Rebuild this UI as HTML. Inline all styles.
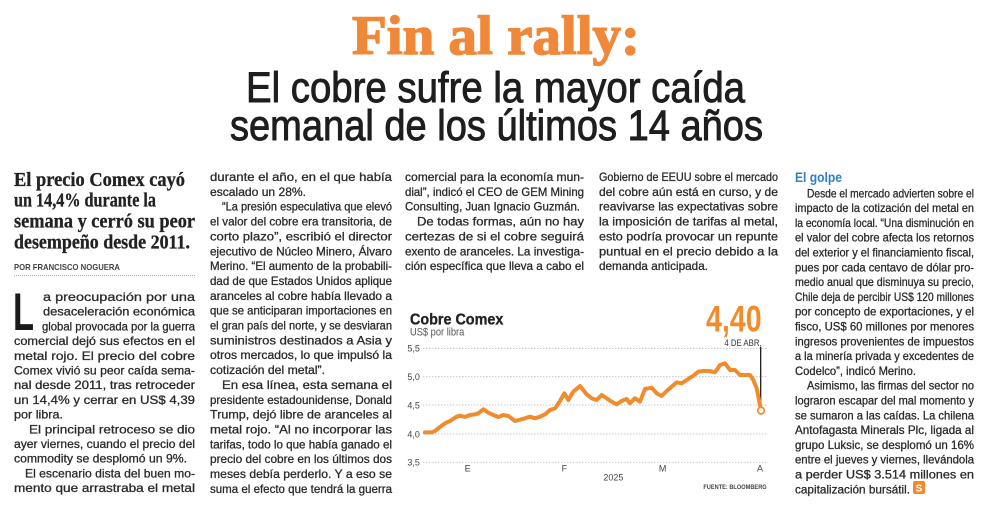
<!DOCTYPE html>
<html><head><meta charset="utf-8">
<style>
html,body{margin:0;padding:0;background:#fff;}
svg{display:block;}
.b{font-family:"Liberation Sans",sans-serif;font-size:12px;fill:#2b2b2b;stroke:#2b2b2b;stroke-width:0.3px;}
</style></head>
<body>
<svg width="1000" height="518" viewBox="0 0 1000 518" xmlns="http://www.w3.org/2000/svg">
<rect width="1000" height="518" fill="#fff"/>
<!-- Title -->
<text x="352" y="54" font-family="'Liberation Serif',serif" font-weight="bold" font-size="55" fill="#f0883a" stroke="#f0883a" stroke-width="1.4" textLength="288" lengthAdjust="spacingAndGlyphs">Fin al rally:</text>
<text x="246" y="102" font-family="'Liberation Sans',sans-serif" font-size="43" fill="#1e1e1e" stroke="#1e1e1e" stroke-width="0.9" textLength="499" lengthAdjust="spacingAndGlyphs">El cobre sufre la mayor caída</text>
<text x="230" y="140" font-family="'Liberation Sans',sans-serif" font-size="43" fill="#1e1e1e" stroke="#1e1e1e" stroke-width="0.9" textLength="533" lengthAdjust="spacingAndGlyphs">semanal de los últimos 14 años</text>

<!-- Column 1 deck -->
<g font-family="'Liberation Serif',serif" font-weight="bold" font-size="19.5" fill="#222" stroke="#222" stroke-width="0.3">
<text x="14" y="186" textLength="171" lengthAdjust="spacingAndGlyphs">El precio Comex cayó</text>
<text x="14" y="206.7" textLength="142" lengthAdjust="spacingAndGlyphs">un 14,4% durante la</text>
<text x="14" y="227.5" textLength="181" lengthAdjust="spacingAndGlyphs">semana y cerró su peor</text>
<text x="14" y="248.3" textLength="176" lengthAdjust="spacingAndGlyphs">desempeño desde 2011.</text>
</g>
<text x="14" y="270" font-family="'Liberation Sans',sans-serif" font-weight="bold" font-size="8.5" fill="#444" textLength="106" lengthAdjust="spacingAndGlyphs">POR FRANCISCO NOGUERA</text>
<line x1="14" y1="275.5" x2="195" y2="275.5" stroke="#aaa" stroke-width="1" stroke-dasharray="1,1"/>
<text x="13" y="330" font-family="'Liberation Sans',sans-serif" font-weight="bold" font-size="53" fill="#1a1a1a" textLength="21" lengthAdjust="spacingAndGlyphs">L</text>

<g class="b">
<!-- Column 1 body -->
<text x="43" y="301" textLength="152" lengthAdjust="spacingAndGlyphs">a preocupación por una</text>
<text x="43" y="315.7" textLength="152" lengthAdjust="spacingAndGlyphs">desaceleración económica</text>
<text x="42" y="330.4" textLength="153" lengthAdjust="spacingAndGlyphs">global provocada por la guerra</text>
<text x="14" y="345.1" textLength="181" lengthAdjust="spacingAndGlyphs">comercial dejó sus efectos en el</text>
<text x="14" y="359.8" textLength="181" lengthAdjust="spacingAndGlyphs">metal rojo. El precio del cobre</text>
<text x="14" y="374.5" textLength="181" lengthAdjust="spacingAndGlyphs">Comex vivió su peor caída sema-</text>
<text x="14" y="389.2" textLength="181" lengthAdjust="spacingAndGlyphs">nal desde 2011, tras retroceder</text>
<text x="14" y="403.9" textLength="181" lengthAdjust="spacingAndGlyphs">un 14,4% y cerrar en US$ 4,39</text>
<text x="14" y="418.6" textLength="49" lengthAdjust="spacingAndGlyphs">por libra.</text>
<text x="29" y="433.3" textLength="166" lengthAdjust="spacingAndGlyphs">El principal retroceso se dio</text>
<text x="14" y="448" textLength="181" lengthAdjust="spacingAndGlyphs">ayer viernes, cuando el precio del</text>
<text x="14" y="462.7" textLength="173" lengthAdjust="spacingAndGlyphs">commodity se desplomó un 9%.</text>
<text x="25" y="477.4" textLength="170" lengthAdjust="spacingAndGlyphs">El escenario dista del buen mo-</text>
<text x="14" y="492.1" textLength="181" lengthAdjust="spacingAndGlyphs">mento que arrastraba el metal</text>

<!-- Column 2 -->
<text x="210" y="181" textLength="182" lengthAdjust="spacingAndGlyphs">durante el año, en el que había</text>
<text x="210" y="195.85" textLength="96" lengthAdjust="spacingAndGlyphs">escalado un 28%.</text>
<text x="222" y="210.7" textLength="170" lengthAdjust="spacingAndGlyphs">“La presión especulativa que elevó</text>
<text x="210" y="225.55" textLength="182" lengthAdjust="spacingAndGlyphs">el valor del cobre era transitoria, de</text>
<text x="210" y="240.4" textLength="182" lengthAdjust="spacingAndGlyphs">corto plazo”, escribió el director</text>
<text x="210" y="255.25" textLength="182" lengthAdjust="spacingAndGlyphs">ejecutivo de Núcleo Minero, Álvaro</text>
<text x="210" y="270.1" textLength="182" lengthAdjust="spacingAndGlyphs">Merino. “El aumento de la probabili-</text>
<text x="210" y="284.95" textLength="182" lengthAdjust="spacingAndGlyphs">dad de que Estados Unidos aplique</text>
<text x="210" y="299.8" textLength="182" lengthAdjust="spacingAndGlyphs">aranceles al cobre había llevado a</text>
<text x="210" y="314.65" textLength="182" lengthAdjust="spacingAndGlyphs">que se anticiparan importaciones en</text>
<text x="210" y="329.5" textLength="182" lengthAdjust="spacingAndGlyphs">el gran país del norte, y se desviaran</text>
<text x="210" y="344.35" textLength="182" lengthAdjust="spacingAndGlyphs">suministros destinados a Asia y</text>
<text x="210" y="359.2" textLength="182" lengthAdjust="spacingAndGlyphs">otros mercados, lo que impulsó la</text>
<text x="210" y="374.05" textLength="115" lengthAdjust="spacingAndGlyphs">cotización del metal”.</text>
<text x="222" y="388.9" textLength="170" lengthAdjust="spacingAndGlyphs">En esa línea, esta semana el</text>
<text x="210" y="403.75" textLength="182" lengthAdjust="spacingAndGlyphs">presidente estadounidense, Donald</text>
<text x="210" y="418.6" textLength="182" lengthAdjust="spacingAndGlyphs">Trump, dejó libre de aranceles al</text>
<text x="210" y="433.45" textLength="182" lengthAdjust="spacingAndGlyphs">metal rojo. “Al no incorporar las</text>
<text x="210" y="448.3" textLength="182" lengthAdjust="spacingAndGlyphs">tarifas, todo lo que había ganado el</text>
<text x="210" y="463.15" textLength="182" lengthAdjust="spacingAndGlyphs">precio del cobre en los últimos dos</text>
<text x="210" y="478" textLength="182" lengthAdjust="spacingAndGlyphs">meses debía perderlo. Y a eso se</text>
<text x="210" y="492.85" textLength="182" lengthAdjust="spacingAndGlyphs">suma el efecto que tendrá la guerra</text>

<!-- Column 3 -->
<text x="405" y="181" textLength="179" lengthAdjust="spacingAndGlyphs">comercial para la economía mun-</text>
<text x="405" y="195.85" textLength="179" lengthAdjust="spacingAndGlyphs">dial”, indicó el CEO de GEM Mining</text>
<text x="405" y="210.7" textLength="175" lengthAdjust="spacingAndGlyphs">Consulting, Juan Ignacio Guzmán.</text>
<text x="417" y="225.55" textLength="167" lengthAdjust="spacingAndGlyphs">De todas formas, aún no hay</text>
<text x="405" y="240.4" textLength="179" lengthAdjust="spacingAndGlyphs">certezas de si el cobre seguirá</text>
<text x="405" y="255.25" textLength="179" lengthAdjust="spacingAndGlyphs">exento de aranceles. La investiga-</text>
<text x="405" y="270.1" textLength="179" lengthAdjust="spacingAndGlyphs">ción específica que lleva a cabo el</text>

<!-- Column 4 -->
<text x="599" y="181" textLength="179" lengthAdjust="spacingAndGlyphs">Gobierno de EEUU sobre el mercado</text>
<text x="599" y="195.85" textLength="179" lengthAdjust="spacingAndGlyphs">del cobre aún está en curso, y de</text>
<text x="599" y="210.7" textLength="179" lengthAdjust="spacingAndGlyphs">reavivarse las expectativas sobre</text>
<text x="599" y="225.55" textLength="179" lengthAdjust="spacingAndGlyphs">la imposición de tarifas al metal,</text>
<text x="599" y="240.4" textLength="179" lengthAdjust="spacingAndGlyphs">esto podría provocar un repunte</text>
<text x="599" y="255.25" textLength="179" lengthAdjust="spacingAndGlyphs">puntual en el precio debido a la</text>
<text x="599" y="270.1" textLength="109" lengthAdjust="spacingAndGlyphs">demanda anticipada.</text>

<!-- Column 5 -->
<text x="807" y="197.3" textLength="167" lengthAdjust="spacingAndGlyphs">Desde el mercado advierten sobre el</text>
<text x="795" y="212.1" textLength="179" lengthAdjust="spacingAndGlyphs">impacto de la cotización del metal en</text>
<text x="795" y="226.9" textLength="179" lengthAdjust="spacingAndGlyphs">la economía local. “Una disminución en</text>
<text x="795" y="241.7" textLength="179" lengthAdjust="spacingAndGlyphs">el valor del cobre afecta los retornos</text>
<text x="795" y="256.5" textLength="179" lengthAdjust="spacingAndGlyphs">del exterior y el financiamiento fiscal,</text>
<text x="795" y="271.3" textLength="179" lengthAdjust="spacingAndGlyphs">pues por cada centavo de dólar pro-</text>
<text x="795" y="286.1" textLength="179" lengthAdjust="spacingAndGlyphs">medio anual que disminuya su precio,</text>
<text x="795" y="300.9" textLength="179" lengthAdjust="spacingAndGlyphs">Chile deja de percibir US$ 120 millones</text>
<text x="795" y="315.7" textLength="179" lengthAdjust="spacingAndGlyphs">por concepto de exportaciones, y el</text>
<text x="795" y="330.5" textLength="179" lengthAdjust="spacingAndGlyphs">fisco, US$ 60 millones por menores</text>
<text x="795" y="345.3" textLength="179" lengthAdjust="spacingAndGlyphs">ingresos provenientes de impuestos</text>
<text x="795" y="360.1" textLength="179" lengthAdjust="spacingAndGlyphs">a la minería privada y excedentes de</text>
<text x="795" y="374.9" textLength="121" lengthAdjust="spacingAndGlyphs">Codelco”, indicó Merino.</text>
<text x="807" y="389.7" textLength="167" lengthAdjust="spacingAndGlyphs">Asimismo, las firmas del sector no</text>
<text x="795" y="404.5" textLength="179" lengthAdjust="spacingAndGlyphs">lograron escapar del mal momento y</text>
<text x="795" y="419.3" textLength="179" lengthAdjust="spacingAndGlyphs">se sumaron a las caídas. La chilena</text>
<text x="795" y="434.1" textLength="179" lengthAdjust="spacingAndGlyphs">Antofagasta Minerals Plc, ligada al</text>
<text x="795" y="448.9" textLength="179" lengthAdjust="spacingAndGlyphs">grupo Luksic, se desplomó un 16%</text>
<text x="795" y="463.7" textLength="179" lengthAdjust="spacingAndGlyphs">entre el jueves y viernes, llevándola</text>
<text x="795" y="478.5" textLength="179" lengthAdjust="spacingAndGlyphs">a perder US$ 3.514 millones en</text>
<text x="795" y="493.3" textLength="115" lengthAdjust="spacingAndGlyphs">capitalización bursátil.</text>
</g>
<text x="795" y="182" font-family="'Liberation Sans',sans-serif" font-weight="bold" font-size="14" fill="#2f7fc1" textLength="47" lengthAdjust="spacingAndGlyphs">El golpe</text>
<rect x="913" y="481" width="12" height="13" rx="2" fill="#f28b2c"/>
<text x="919" y="491.5" text-anchor="middle" font-family="'Liberation Sans',sans-serif" font-weight="bold" font-size="10" fill="#fff">S</text>

<!-- Chart -->
<g transform="translate(400,295) scale(0.33333)">
  <text x="30" y="88" font-family="'Liberation Sans',sans-serif" font-weight="bold" font-size="48" fill="#222" stroke="#222" stroke-width="1" textLength="280" lengthAdjust="spacingAndGlyphs">Cobre Comex</text>
  <text x="30" y="122" font-family="'Liberation Sans',sans-serif" font-size="32" fill="#555" textLength="163" lengthAdjust="spacingAndGlyphs">US$ por libra</text>
  <text x="918" y="110" font-family="'Liberation Sans',sans-serif" font-weight="bold" font-size="110" fill="#f28b2c" textLength="167" lengthAdjust="spacingAndGlyphs">4,40</text>
  <text x="973" y="153" font-family="'Liberation Sans',sans-serif" font-size="28" fill="#333" textLength="112" lengthAdjust="spacingAndGlyphs">4 DE ABR.</text>
  <g stroke="#aaa" stroke-width="3" stroke-dasharray="3,6">
    <line x1="70" y1="160" x2="1100" y2="160"/>
    <line x1="70" y1="245" x2="1100" y2="245"/>
    <line x1="70" y1="330" x2="1100" y2="330"/>
    <line x1="70" y1="417" x2="1100" y2="417"/>
    <line x1="70" y1="502" x2="1100" y2="502"/>
  </g>
  <g font-family="'Liberation Sans',sans-serif" font-size="27" fill="#444">
    <text x="22" y="170">5,5</text>
    <text x="22" y="255">5,0</text>
    <text x="22" y="340">4,5</text>
    <text x="22" y="427">4,0</text>
    <text x="22" y="512">3,5</text>
    <text x="203" y="530" text-anchor="middle">E</text>
    <text x="493" y="530" text-anchor="middle">F</text>
    <text x="788" y="530" text-anchor="middle">M</text>
    <text x="1080" y="530" text-anchor="middle">A</text>
    <text x="640" y="557" text-anchor="middle">2025</text>
  </g>
  <text x="910" y="582" font-family="'Liberation Sans',sans-serif" font-weight="bold" font-size="20" fill="#444" textLength="190" lengthAdjust="spacingAndGlyphs">FUENTE: BLOOMBERG</text>
  <line x1="1082" y1="155" x2="1082" y2="340" stroke="#222" stroke-width="4"/>
  <polyline fill="none" stroke="#f28b2c" stroke-width="12" stroke-linejoin="round" stroke-linecap="round"
    points="75,412 95,412 105,408 125,392 135,385 150,378 170,365 180,362 195,366 210,360 225,358 235,355 250,343 265,353 280,360 295,366 310,360 325,363 345,378 360,374 375,370 390,365 405,370 420,365 435,358 450,345 465,340 480,318 493,295 505,315 520,290 540,273 560,298 575,310 590,315 605,300 620,310 635,320 650,328 665,318 680,312 690,325 705,310 720,320 735,282 755,278 770,295 785,303 800,288 815,275 830,262 845,265 860,255 880,242 895,230 910,228 930,228 945,232 960,210 975,205 990,225 1005,225 1020,240 1035,240 1050,240 1060,255 1070,280 1080,330 1083,345"/>
  <circle cx="1083" cy="347" r="10" fill="#fff" stroke="#f28b2c" stroke-width="5"/>
</g>
</svg>
</body></html>
